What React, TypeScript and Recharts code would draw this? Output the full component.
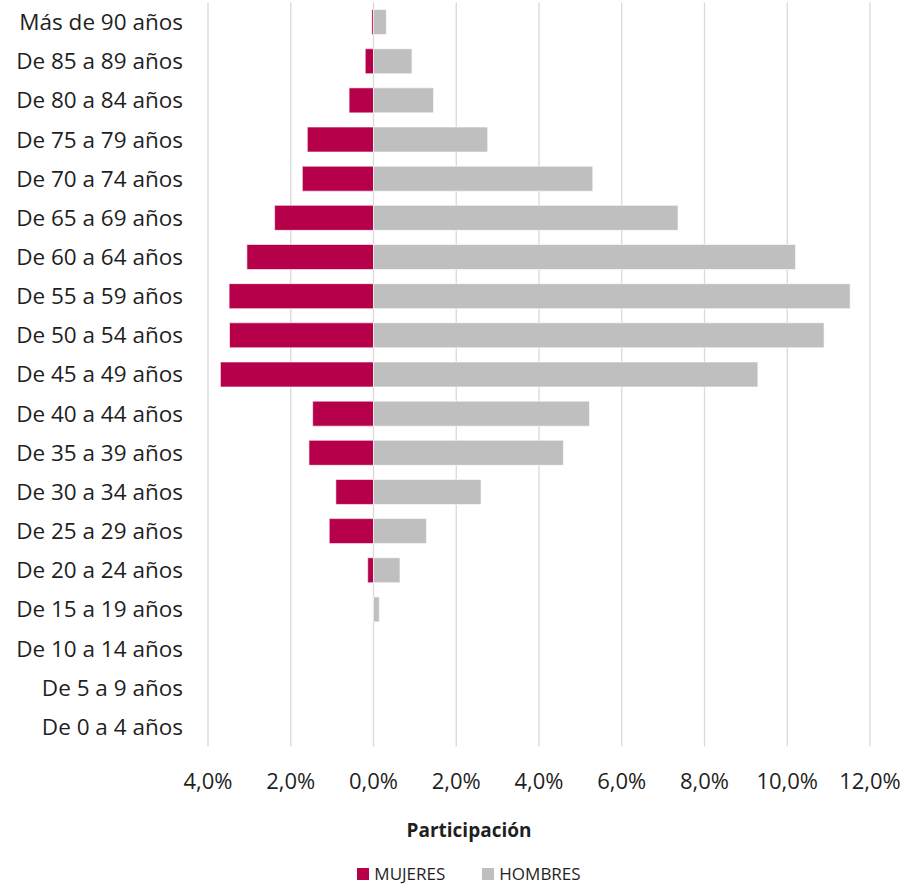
import React from "react";
import {
  Bar,
  BarChart,
  CartesianGrid,
  Legend,
  XAxis,
  YAxis,
} from "recharts";

const ageGroups = [
  "Más de 90 años",
  "De 85 a 89 años",
  "De 80 a 84 años",
  "De 75 a 79 años",
  "De 70 a 74 años",
  "De 65 a 69 años",
  "De 60 a 64 años",
  "De 55 a 59 años",
  "De 50 a 54 años",
  "De 45 a 49 años",
  "De 40 a 44 años",
  "De 35 a 39 años",
  "De 30 a 34 años",
  "De 25 a 29 años",
  "De 20 a 24 años",
  "De 15 a 19 años",
  "De 10 a 14 años",
  "De 5 a 9 años",
  "De 0 a 4 años",
];

// participation in %, women drawn to the left
const mujeres = [
  0.04, 0.2, 0.59, 1.6, 1.72, 2.39, 3.06, 3.49, 3.48, 3.7, 1.47, 1.56, 0.91,
  1.07, 0.14, 0, 0, 0, 0,
];
const hombres = [
  0.31, 0.93, 1.45, 2.76, 5.3, 7.36, 10.2, 11.52, 10.89, 9.29, 5.22, 4.59, 2.6,
  1.28, 0.64, 0.14, 0, 0, 0,
];

const xTicks = [-4, -2, 0, 2, 4, 6, 8, 10, 12];
const seriesOrder = ["MUJERES", "HOMBRES"];

const data = ageGroups.map((g, i) => ({
  grupo: g,
  MUJERES: -mujeres[i],
  HOMBRES: hombres[i],
}));

const FONT = "'Open Sans', 'Noto Sans', sans-serif";
const TEXT = "#1f1f1f";

const fmtPct = (v: number) => Math.abs(v).toFixed(1).replace(".", ",") + "%";

const LegendContent = ({ payload }: any) => {
  const items = [...(payload || [])].sort(
    (a: any, b: any) => seriesOrder.indexOf(a.value) - seriesOrder.indexOf(b.value)
  );
  return (
    <div
      style={{
        height: 22,
        display: "flex",
        justifyContent: "center",
        alignItems: "flex-end",
        gap: 37,
        fontSize: 17,
        fontFamily: FONT,
        color: TEXT,
        lineHeight: "20px",
      }}
    >
      {items.map((it: any) => (
        <span key={it.value} style={{ display: "flex", alignItems: "center" }}>
          <span
            style={{
              width: 12,
              height: 12,
              background: it.color,
              display: "inline-block",
              marginRight: 5,
            }}
          />
          {it.value}
        </span>
      ))}
    </div>
  );
};

export default function App() {
  return (
    <div style={{ position: "absolute", left: 0, top: 0, fontFamily: FONT }}>
      <BarChart
        width={907}
        height={886}
        data={data}
        layout="vertical"
        stackOffset="sign"
        barCategoryGap="18%"
        margin={{ top: 2.5, right: 37, bottom: 12, left: 0 }}
      >
        <CartesianGrid horizontal={false} stroke="#d9d9d9" strokeWidth={1.3} />
        <XAxis
          type="number"
          domain={[-4, 12]}
          ticks={xTicks}
          tickFormatter={fmtPct}
          axisLine={false}
          tickLine={false}
          tickMargin={21}
          height={105.5}
          tick={{ fill: TEXT, fontSize: 22, fontFamily: FONT }}
          label={({ viewBox }: any) => (
            <text
              x={viewBox.x + viewBox.width / 2 - 70}
              y={viewBox.y + 90}
              textAnchor="middle"
              fontSize={19}
              fontWeight="bold"
              fill={TEXT}
              fontFamily={FONT}
            >
              Participación
            </text>
          )}
        />
        <YAxis
          type="category"
          dataKey="grupo"
          width={208}
          axisLine={false}
          tickLine={false}
          tickMargin={19}
          interval={0}
          tick={{ fill: TEXT, fontSize: 22.5, fontFamily: FONT }}
        />
        <Legend
          verticalAlign="bottom"
          content={<LegendContent />}
          wrapperStyle={{
            left: 0,
            width: 907,
            bottom: 2,
            paddingLeft: 31,
            boxSizing: "border-box",
          }}
        />
        <Bar
          dataKey="MUJERES"
          stackId="p"
          fill="#B7004A"
          stroke="#ffffff"
          strokeWidth={0.6}
          isAnimationActive={false}
        />
        <Bar
          dataKey="HOMBRES"
          stackId="p"
          fill="#BFBFBF"
          stroke="#ffffff"
          strokeWidth={0.6}
          isAnimationActive={false}
        />
      </BarChart>
    </div>
  );
}
